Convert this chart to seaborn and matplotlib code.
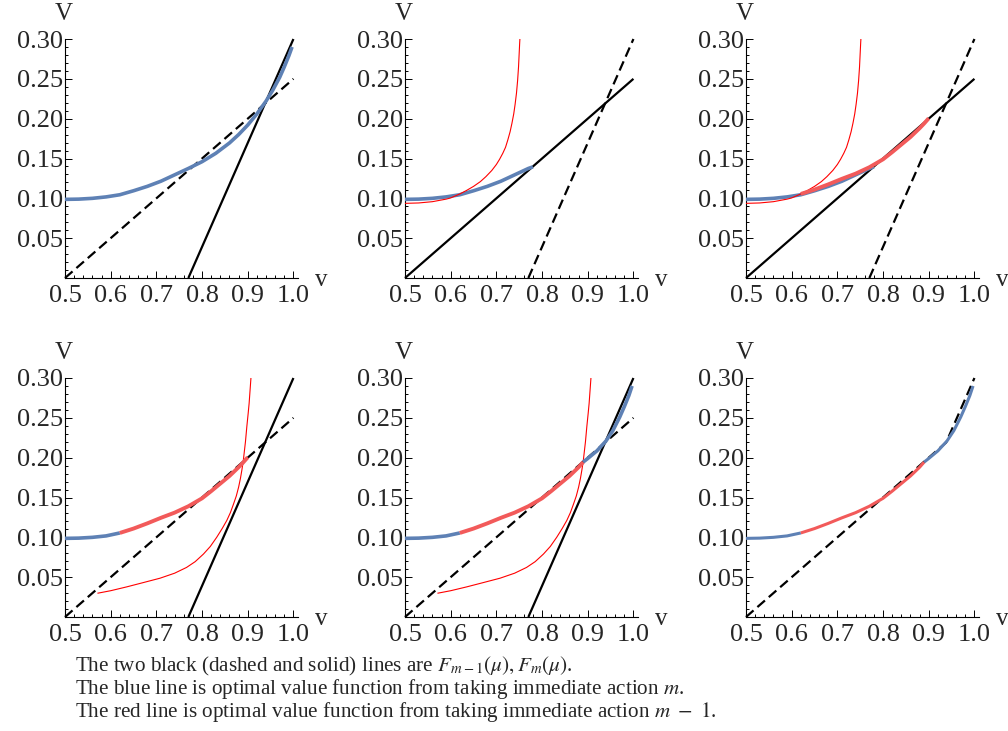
import numpy as np
import pandas as pd
import matplotlib
matplotlib.use("Agg")
import matplotlib.pyplot as plt
from matplotlib.ticker import MultipleLocator, FixedLocator, FixedFormatter
import seaborn as sns

# ---------------- data ----------------
# straight lines F_{m-1}(mu) and F_m(mu)
line_a_x = [0.50, 1.00]
line_a_y = [0.00, 0.25]
line_b_x = [0.77, 1.00]
line_b_y = [0.00, 0.30]
# upper envelope of the two lines (last panel)
env_x = [0.50, 0.938, 1.00]
env_y = [0.00, 0.219, 0.30]

# blue: value of immediate action m
blue_full_x = [0.50, 0.53, 0.56, 0.59, 0.62, 0.65, 0.68, 0.71, 0.74, 0.77, 0.80, 0.83,
               0.86, 0.88, 0.90, 0.92, 0.94, 0.955, 0.97, 0.98, 0.99, 0.997]
blue_full_y = [0.0987, 0.0990, 0.1000, 0.1018, 0.1045, 0.1095, 0.1150, 0.1215, 0.1295, 0.1375,
               0.1460, 0.1565, 0.1695, 0.1800, 0.1920, 0.2060, 0.2220, 0.2360, 0.2520, 0.2650,
               0.2790, 0.2900]
blue_mid_x = [0.50, 0.53, 0.56, 0.59, 0.62, 0.65, 0.68, 0.71, 0.74, 0.77, 0.78]
blue_mid_y = [0.0987, 0.0990, 0.1000, 0.1018, 0.1045, 0.1095, 0.1150, 0.1215, 0.1295, 0.1375, 0.1395]
blue_left_x = [0.50, 0.53, 0.56, 0.59, 0.62]
blue_left_y = [0.0987, 0.0990, 0.1000, 0.1018, 0.1055]
blue_right_x = [0.89, 0.90, 0.92, 0.94, 0.955, 0.97, 0.98, 0.99, 0.997]
blue_right_y = [0.1945, 0.1990, 0.2085, 0.2210, 0.2340, 0.2510, 0.2640, 0.2780, 0.2900]

# red thin: value of immediate action m-1 (full curve)
red_thin_early_x = [0.50, 0.53, 0.56, 0.59, 0.60, 0.62, 0.635, 0.65, 0.665, 0.677, 0.69, 0.70,
                    0.707, 0.714, 0.72, 0.725, 0.730, 0.734, 0.738, 0.741, 0.744, 0.7465,
                    0.7485, 0.750, 0.751, 0.7515]
red_thin_early_y = [0.0937, 0.0942, 0.0958, 0.0990, 0.1005, 0.1055, 0.1100, 0.1150, 0.1210, 0.1272,
                    0.1350, 0.1425, 0.1490, 0.1565, 0.1640, 0.1732, 0.1835, 0.1940, 0.2060, 0.2180,
                    0.2320, 0.2480, 0.2650, 0.2830, 0.2950, 0.3000]
red_thin_late_x = [0.571, 0.60, 0.635, 0.67, 0.708, 0.74, 0.766, 0.785, 0.803, 0.818, 0.832, 0.844,
                   0.854, 0.862, 0.869, 0.875, 0.880, 0.884, 0.887, 0.890, 0.892, 0.895, 0.898,
                   0.901, 0.903, 0.905, 0.907]
red_thin_late_y = [0.0298, 0.0330, 0.0378, 0.0430, 0.0487, 0.0550, 0.0622, 0.0695, 0.0790, 0.0885,
                   0.1000, 0.1110, 0.1210, 0.1310, 0.1420, 0.1520, 0.1630, 0.1740, 0.1840, 0.1950,
                   0.2050, 0.2200, 0.2390, 0.2560, 0.2680, 0.2840, 0.3000]

# red thick: optimal part from action m-1
red_thick_long_x = [0.62, 0.65, 0.68, 0.71, 0.74, 0.77, 0.80, 0.82, 0.84, 0.86, 0.87, 0.88, 0.89, 0.90]
red_thick_long_y = [0.1055, 0.1110, 0.1175, 0.1245, 0.1310, 0.1390, 0.1490, 0.1580, 0.1675, 0.1770,
                    0.1825, 0.1880, 0.1940, 0.2005]
red_thick_short_x = [0.62, 0.65, 0.68, 0.71, 0.74, 0.77, 0.80, 0.82, 0.84, 0.86, 0.87, 0.88, 0.89]
red_thick_short_y = [0.1055, 0.1110, 0.1175, 0.1245, 0.1310, 0.1390, 0.1490, 0.1580, 0.1675, 0.1770,
                     0.1825, 0.1880, 0.1945]

x_ticks = [0.5, 0.6, 0.7, 0.8, 0.9, 1.0]
x_ticklabels = ["0.5", "0.6", "0.7", "0.8", "0.9", "1.0"]
y_ticks = [0.05, 0.10, 0.15, 0.20, 0.25, 0.30]
y_ticklabels = ["0.05", "0.10", "0.15", "0.20", "0.25", "0.30"]

captions = [
    r"The two black (dashed and solid) lines are $F_{m-1}(\mu), F_m(\mu)$.",
    r"The blue line is optimal value function from taking immediate action $m$.",
    r"The red line is optimal value function from taking immediate action $m\ -\ 1$.",
]

# ---------------- styles ----------------
BLUE = "#5E81B5"
RED_THIN = "#FF0000"
RED_THICK = "#F25A5A"
DASH = (0, (4.5, 2.3))

sns.set_style("ticks")
plt.rcParams["font.family"] = ["Liberation Serif", "DejaVu Serif"]
plt.rcParams["mathtext.fontset"] = "stix"

fig = plt.figure(figsize=(10.08, 7.31), dpi=100)
W, H = 1008.0, 731.0

col_left = [65, 405, 746]
row_top = [39, 378]
ax_w = 233
ax_h = 239

def curve(ax, xs, ys, color, lw, ls="-", z=2):
    df = pd.DataFrame({"x": xs, "y": ys})
    sns.lineplot(data=df, x="x", y="y", ax=ax, color=color, linewidth=lw,
                 linestyle=ls, sort=False, estimator=None, zorder=z, clip_on=False,
                 solid_joinstyle="round", solid_capstyle="butt")

# panel composition: (xs, ys, kind)
panels = [
    [(line_a_x, line_a_y, "dash"), (line_b_x, line_b_y, "solid"),
     (blue_full_x, blue_full_y, "blue")],
    [(line_a_x, line_a_y, "solid"), (line_b_x, line_b_y, "dash"),
     (blue_mid_x, blue_mid_y, "blue"), (red_thin_early_x, red_thin_early_y, "thin")],
    [(line_a_x, line_a_y, "solid"), (line_b_x, line_b_y, "dash"),
     (blue_mid_x, blue_mid_y, "blue"), (red_thin_early_x, red_thin_early_y, "thin"),
     (red_thick_long_x, red_thick_long_y, "thick")],
    [(line_a_x, line_a_y, "dash"), (line_b_x, line_b_y, "solid"),
     (red_thin_late_x, red_thin_late_y, "thin"), (blue_left_x, blue_left_y, "blue"),
     (red_thick_long_x, red_thick_long_y, "thick")],
    [(line_a_x, line_a_y, "dash"), (line_b_x, line_b_y, "solid"),
     (red_thin_late_x, red_thin_late_y, "thin"), (blue_left_x, blue_left_y, "blue"),
     (red_thick_short_x, red_thick_short_y, "thick"), (blue_right_x, blue_right_y, "blue")],
    [(env_x, env_y, "dash"), (blue_left_x, blue_left_y, "blue2"),
     (red_thick_short_x, red_thick_short_y, "thick2"), (blue_right_x, blue_right_y, "blue2")],
]

for i, items in enumerate(panels):
    r, c = divmod(i, 3)
    left = col_left[c] / W
    bottom = 1 - (row_top[r] + ax_h) / H
    ax = fig.add_axes([left, bottom, ax_w / W, ax_h / H])
    for k, (xs, ys, kind) in enumerate(items):
        if kind == "dash":
            curve(ax, xs, ys, "black", 1.6, DASH, z=2)
        elif kind == "solid":
            curve(ax, xs, ys, "black", 1.6, "-", z=2)
        elif kind == "blue":
            curve(ax, xs, ys, BLUE, 2.6, "-", z=3 + k)
        elif kind == "blue2":
            curve(ax, xs, ys, BLUE, 2.2, "-", z=3 + k)
        elif kind == "thick":
            curve(ax, xs, ys, RED_THICK, 2.8, "-", z=3 + k)
        elif kind == "thick2":
            curve(ax, xs, ys, RED_THICK, 2.2, "-", z=3 + k)
        elif kind == "thin":
            curve(ax, xs, ys, RED_THIN, 0.8, "-", z=3 + k)

    ax.set_xlim(0.5, 1.01)
    ax.set_ylim(0.0, 0.30)
    ax.set_xlabel("")
    ax.set_ylabel("")
    for s in ["top", "right"]:
        ax.spines[s].set_visible(False)
    for s in ["left", "bottom"]:
        ax.spines[s].set_color("black")
        ax.spines[s].set_linewidth(0.8)
    ax.xaxis.set_major_locator(FixedLocator(x_ticks))
    ax.xaxis.set_major_formatter(FixedFormatter(x_ticklabels))
    ax.xaxis.set_minor_locator(MultipleLocator(0.02))
    ax.yaxis.set_major_locator(FixedLocator([0.0] + y_ticks))
    ax.yaxis.set_major_formatter(FixedFormatter([""] + y_ticklabels))
    ax.yaxis.set_minor_locator(MultipleLocator(0.01))
    ax.tick_params(which="both", direction="in", color="black", width=0.7,
                   top=False, right=False)
    ax.tick_params(which="major", length=5)
    ax.tick_params(which="minor", length=2.5)
    ax.tick_params(axis="x", which="major", labelsize=19, pad=5)
    ax.tick_params(axis="y", which="major", labelsize=19, pad=1.2)
    ax.set_facecolor("white")
    ax.annotate("V", xy=(0, 1), xycoords="axes fraction", xytext=(-1, 18),
                textcoords="offset points", ha="center", va="center", fontsize=18)
    ax.annotate("v", xy=(1, 0), xycoords="axes fraction", xytext=(17, -1.5),
                textcoords="offset points", ha="center", va="center", fontsize=18)

cap_y = [666, 689, 712]
for t, yy in zip(captions, cap_y):
    fig.text(75 / W, 1 - yy / H, t, ha="left", va="center", fontsize=15.2)

fig.savefig("out.png", dpi=100, facecolor="white")
